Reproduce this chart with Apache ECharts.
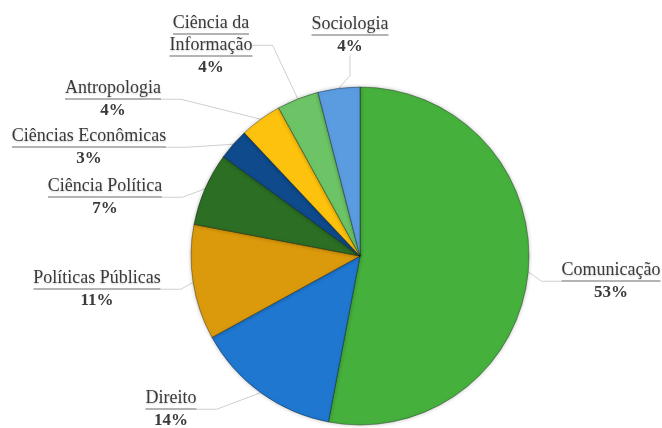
<!DOCTYPE html>
<html><head><meta charset="utf-8">
<script src="https://cdn.jsdelivr.net/npm/echarts@6/dist/echarts.min.js"></script>
<style>html,body{margin:0;padding:0;background:#fff}#c{width:662px;height:428px}</style>
</head><body><div id="c"></div>
<script>
var categories = ['Comunicação','Direito','Políticas Públicas','Ciência Política','Ciências Econômicas','Antropologia','Ciência da\nInformação','Sociologia'];
var values = [53, 14, 11, 7, 3, 4, 4, 4];
var colors = ['#46b03d','#1f77d0','#da9a0c','#2c6e24','#0e4a8c','#fdc20d','#6cc466','#5b9be0'];
var labelPos = [[611,282],[171,410],[97,290],[105,198],[89,148],[113,100],[211,46],[350,36]];

var FAMILY = '"Liberation Serif", "DejaVu Serif", serif';
var NAME_SIZE = 18;
var ctx = document.createElement('canvas').getContext('2d');
ctx.font = NAME_SIZE + 'px ' + FAMILY;
var rich = {
  nm: {fontFamily:FAMILY, fontSize:NAME_SIZE, fontWeight:'normal', color:'#3a3a3a', lineHeight:19, align:'center',
       textShadowColor:'rgba(0,0,0,0.2)', textShadowBlur:2, textShadowOffsetY:1},
  p: {fontFamily:FAMILY, fontSize:17, fontWeight:'bold', color:'#3a3a3a', lineHeight:21, align:'center'}
};
var ucount = 0;
var formatted = categories.map(function(name, i){
  var lines = name.normalize('NFC').split('\n');
  var s = '';
  lines.forEach(function(l){
    var key = 'u' + (ucount++);
    rich[key] = {width: Math.round(ctx.measureText(l).width), height:1, lineHeight:3, backgroundColor:'#6a6a6a', align:'center'};
    s += '{nm|' + l + '}\n{' + key + '|}\n';
  });
  s += '{p|' + values[i] + '%}';
  return s;
});

var chart = echarts.init(document.getElementById('c'));
chart.setOption({
  animation:false,
  series:[{
    type:'pie',
    center:[360,256],
    radius:169,
    startAngle:90,
    clockwise:true,
    data: categories.map(function(c,i){ return {name:c, value:values[i], itemStyle:{color:colors[i]}}; }),
    itemStyle:{borderColor:'rgba(0,0,0,0.35)', borderWidth:1, shadowColor:'rgba(0,0,0,0.25)', shadowBlur:4},
    label:{
      show:true,
      fontFamily:FAMILY,
      fontSize:NAME_SIZE,
      color:'#3a3a3a',
      overflow:'none',
      formatter:function(p){ return formatted[p.dataIndex]; },
      rich:rich
    },
    labelLine:{show:true, length:20, length2:20, lineStyle:{color:'#cfcfcf', width:1}},
    labelLayout:function(p){
      var pos = labelPos[p.dataIndex];
      return {x:pos[0], y:pos[1], align:'center', verticalAlign:'middle'};
    }
  }]
});
</script>
</body></html>
